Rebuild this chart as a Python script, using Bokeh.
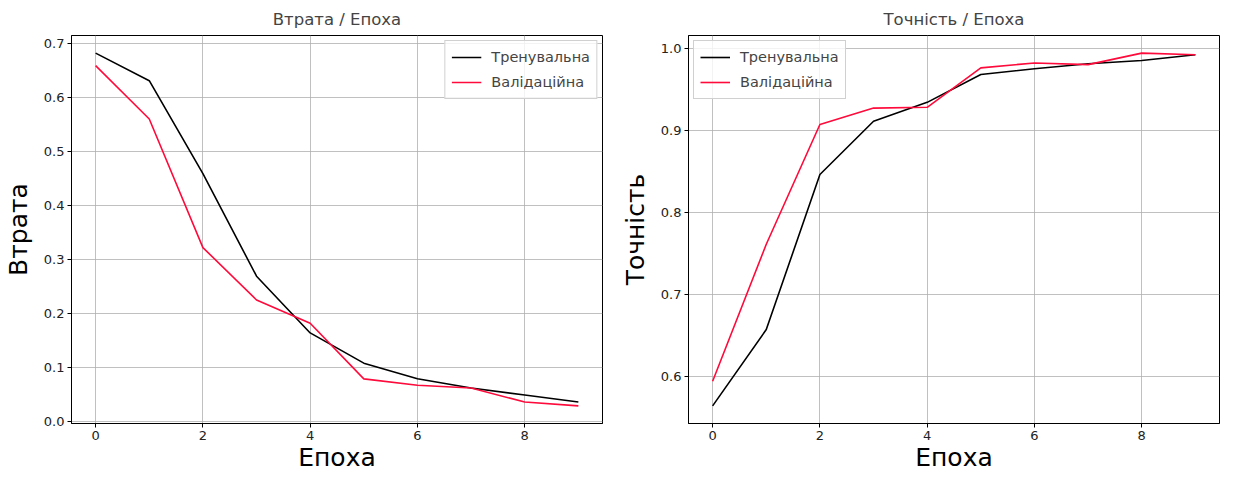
from bokeh.plotting import figure
from bokeh.layouts import row
from bokeh.models import Range1d, FixedTicker, Legend, LegendItem
from bokeh.embed import file_html
from bokeh.resources import INLINE

epochs = [0, 1, 2, 3, 4, 5, 6, 7, 8, 9]
train_loss = [0.682, 0.631, 0.459, 0.269, 0.164, 0.108, 0.079, 0.062, 0.049, 0.036]
val_loss = [0.659, 0.560, 0.322, 0.225, 0.182, 0.079, 0.067, 0.062, 0.036, 0.029]
train_acc = [0.564, 0.657, 0.846, 0.911, 0.934, 0.968, 0.975, 0.981, 0.985, 0.992]
val_acc = [0.594, 0.761, 0.907, 0.927, 0.928, 0.976, 0.982, 0.980, 0.994, 0.992]

x_ticks = [0, 2, 4, 6, 8]
loss_ticks = [0.0, 0.1, 0.2, 0.3, 0.4, 0.5, 0.6, 0.7]
acc_ticks = [0.6, 0.7, 0.8, 0.9, 1.0]

label_train = "Тренувальна"
label_val = "Валідаційна"
FONT = "DejaVu Sans"
RED = "#ff0a3a"


def style(p, yticks, xlabel, ylabel):
    p.xaxis.ticker = FixedTicker(ticks=x_ticks)
    p.yaxis.ticker = FixedTicker(ticks=yticks)
    p.yaxis.major_label_overrides = {t: f"{t:.1f}" for t in yticks}
    for ax in (p.xaxis[0], p.yaxis[0]):
        ax.axis_line_color = "black"
        ax.major_tick_line_color = "black"
        ax.major_tick_out = 4
        ax.major_tick_in = 0
        ax.minor_tick_line_color = None
        ax.major_label_text_font = FONT
        ax.major_label_text_font_size = "13px"
        ax.major_label_text_color = "#222222"
        ax.major_label_standoff = 3
        ax.axis_label_text_font = FONT
        ax.axis_label_text_font_size = "25px"
        ax.axis_label_text_font_style = "normal"
        ax.axis_label_text_color = "black"
        ax.axis_label_text_line_height = 1.0
    p.xaxis.axis_label = xlabel
    p.yaxis.axis_label = ylabel
    p.xaxis.axis_label_standoff = 0
    p.yaxis.axis_label_standoff = 8
    p.xgrid.ticker = FixedTicker(ticks=x_ticks)
    p.ygrid.ticker = FixedTicker(ticks=yticks)
    for g in (p.xgrid[0], p.ygrid[0]):
        g.grid_line_color = "#b0b0b0"
        g.grid_line_width = 0.8
    p.outline_line_color = "black"
    p.outline_line_width = 1
    p.outline_line_alpha = 1
    p.title.text_font = FONT
    p.title.text_font_size = "16.5px"
    p.title.text_font_style = "normal"
    p.title.align = "center"
    p.title.standoff = 14
    p.background_fill_color = "white"
    p.border_fill_color = "white"


def add_lines(p, ytr, yva, loc):
    r1 = p.line(epochs, ytr, line_color="black", line_width=1.6)
    r2 = p.line(epochs, yva, line_color=RED, line_width=1.6)
    leg = Legend(items=[LegendItem(label=label_train, renderers=[r1]),
                        LegendItem(label=label_val, renderers=[r2])],
                 location=loc)
    leg.label_text_font = FONT
    leg.label_text_font_size = "14.5px"
    leg.border_line_color = "#d0d0d0"
    leg.border_line_alpha = 1
    leg.background_fill_alpha = 0.8
    leg.glyph_width = 30
    leg.glyph_height = 20
    leg.spacing = 5
    leg.padding = 6
    leg.margin = 5
    leg.label_standoff = 10
    p.add_layout(leg, "center")


H = 474
p1 = figure(width=608, height=H, title="Втрата / Епоха",
            x_range=Range1d(-0.45, 9.45), y_range=Range1d(-0.0037, 0.7147),
            output_backend="svg", toolbar_location=None,
            min_border_left=64, min_border_right=6, min_border_top=29, min_border_bottom=40)
style(p1, loss_ticks, "Епоха", "Втрата")
add_lines(p1, train_loss, val_loss, "top_right")

p2 = figure(width=613, height=H, title="Точність / Епоха",
            x_range=Range1d(-0.45, 9.45), y_range=Range1d(0.5425, 1.0155),
            output_backend="svg", toolbar_location=None,
            min_border_left=80, min_border_right=2, min_border_top=29, min_border_bottom=40)
style(p2, acc_ticks, "Епоха", "Точність")
add_lines(p2, train_acc, val_acc, "top_left")

layout = row(p1, p2)
open("out.html", "w").write(file_html(layout, INLINE))
